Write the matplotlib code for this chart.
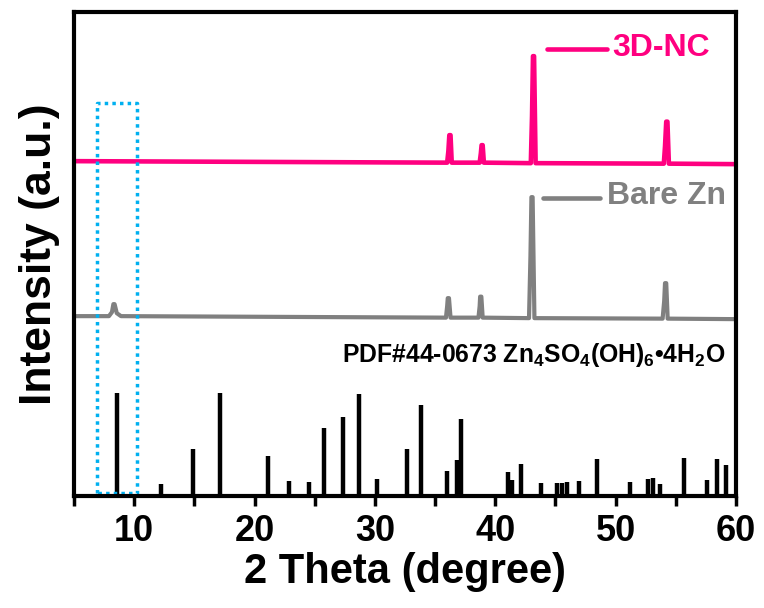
import matplotlib
matplotlib.use("Agg")
import matplotlib.pyplot as plt

plt.rcParams['font.family'] = ['Liberation Sans', 'DejaVu Sans']
plt.rcParams['font.weight'] = 'bold'
plt.rcParams['mathtext.fontset'] = 'custom'
plt.rcParams['mathtext.rm'] = 'Liberation Sans:bold'
plt.rcParams['mathtext.bf'] = 'Liberation Sans:bold'

# 3D-NC pattern (offset upward)
nc_x = [5.0, 36.0, 36.1, 36.18, 36.28, 36.38, 38.7, 38.8, 38.86, 38.95, 39.05,
        42.95, 43.05, 43.13, 43.22, 43.35, 54.0, 54.1, 54.2, 54.3, 54.42, 60.0]
nc_y = [335, 333.5, 345, 361, 361, 333.5, 333.5, 343, 351, 351, 333.5,
        333, 380, 440, 440, 333, 332.5, 350, 374.5, 374.5, 332.5, 332]

# bare Zn pattern
zn_x = [5.0, 7.9, 8.15, 8.27, 8.37, 8.55, 8.9, 35.9, 36.0, 36.05, 36.15, 36.28,
        38.6, 38.7, 38.74, 38.84, 38.95, 42.8, 42.92, 43.0, 43.1, 43.25,
        53.9, 54.03, 54.1, 54.2, 54.32, 60.0]
zn_y = [180, 180, 184, 192, 192, 183, 180, 178.5, 190, 198, 198, 178.5,
        178.5, 190, 199.5, 199.5, 178.5, 178, 240, 299, 299, 178,
        177.5, 195, 213, 213, 177.5, 177]

# PDF#44-0673 reference sticks
pdf_pos = [8.55, 12.2, 14.91, 17.13, 21.09, 22.88, 24.49, 25.76, 27.37, 28.7,
           30.14, 32.68, 33.82, 35.96, 36.84, 37.17, 41.02, 41.38, 42.15, 43.76,
           45.09, 45.51, 45.92, 46.94, 48.44, 51.18, 52.7, 53.11, 53.67, 55.69,
           57.55, 58.43, 59.15]
pdf_int = [103, 12, 47, 103, 40, 15, 14, 68, 79, 102,
           17, 47, 91, 25, 36, 77, 24, 16, 32, 13,
           13, 13, 14, 15, 37, 14, 17, 18, 12, 38,
           16, 37, 31]

pink = '#FF0080'
grey = '#808080'
blue = '#00B0F0'

fig = plt.figure(figsize=(7.64, 6.08), dpi=100)
ax = fig.add_axes([0.0969, 0.184, 0.8665, 0.796])

ax.plot(nc_x, nc_y, color=pink, lw=3.3, solid_joinstyle='round')
ax.plot(zn_x, zn_y, color=grey, lw=3.0, solid_joinstyle='round')
ax.vlines(pdf_pos, 0, pdf_int, color='black', lw=3.2)

# highlighted region
ax.plot([6.9, 6.9, 10.2, 10.2, 6.9], [3, 393, 393, 3, 3], color=blue, lw=2.5,
        linestyle=(0, (1, 1.2)))

# labels next to curves
ax.plot([44.3, 49.3], [447, 447], color=pink, lw=3.3, solid_capstyle='round')
ax.text(49.75, 448, '3D-NC', color=pink, fontsize=23, fontweight='bold', va='center')
ax.plot([43.95, 48.7], [298, 298], color=grey, lw=3.3, solid_capstyle='round')
ax.text(49.3, 300, 'Bare Zn', color=grey, fontsize=23, fontweight='bold', va='center')
ax.text(27.3, 134,
        r'PDF#44-0673 Zn$_\mathbf{4}$SO$_\mathbf{4}$(OH)$_\mathbf{6}$•4H$_\mathbf{2}$O',
        color='black', fontsize=17.8, fontweight='bold', va='baseline')

ax.set_xlim(5, 60)
ax.set_ylim(0, 484)
ax.set_xticks([10, 20, 30, 40, 50, 60])
ax.set_xticks([5, 15, 25, 35, 45, 55], minor=True)
ax.set_yticks([])
ax.tick_params(axis='x', which='both', direction='out', length=7, width=2.5, labelsize=26, pad=6)
for lab in ax.get_xticklabels():
    lab.set_fontweight('bold')
for sp in ax.spines.values():
    sp.set_linewidth(3)

ax.set_xlabel('2 Theta (degree)', fontsize=30, fontweight='bold', labelpad=2)
ax.set_ylabel('Intensity (a.u.)', fontsize=32, fontweight='bold', labelpad=10)

fig.savefig('out.png', dpi=100)
